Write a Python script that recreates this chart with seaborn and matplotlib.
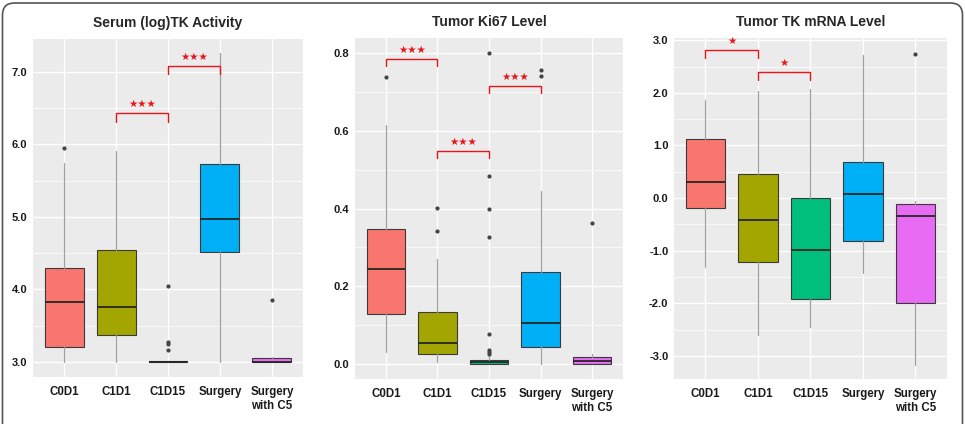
import numpy as np
import matplotlib
matplotlib.use("Agg")
import matplotlib.pyplot as plt
import matplotlib.ticker as mticker
from matplotlib.patches import FancyBboxPatch
import seaborn as sns

# -----------------------------------------------------------------------------
# Data (box statistics)
# -----------------------------------------------------------------------------

groups = ["C0D1", "C1D1", "C1D15", "Surgery", "Surgery\nwith C5"]

# Serum (log)TK Activity
tk_lo = [3.0, 3.0, 3.0, 3.0, 3.0]
tk_q1 = [3.21, 3.37, 3.0, 4.51, 3.0]
tk_med = [3.83, 3.75, 3.0, 4.97, 3.0]
tk_q3 = [4.29, 4.55, 3.01, 5.73, 3.05]
tk_hi = [5.74, 5.91, 3.01, 7.26, 3.07]
tk_fliers = [[5.95], [], [4.05, 3.28, 3.24, 3.16], [], [3.86]]
tk_brackets = [(2, 3, 6.43, 6.31, "★★★"), (3, 4, 7.08, 6.97, "★★★")]

# Tumor Ki67 Level
ki_lo = [0.030, 0.005, 0.0, 0.0, 0.0]
ki_q1 = [0.129, 0.025, 0.0, 0.044, 0.0]
ki_med = [0.244, 0.055, 0.005, 0.106, 0.009]
ki_q3 = [0.348, 0.135, 0.010, 0.236, 0.018]
ki_hi = [0.615, 0.27, 0.02, 0.446, 0.027]
ki_fliers = [[0.738], [0.401, 0.343], [0.80, 0.484, 0.399, 0.328, 0.076, 0.036, 0.030, 0.026],
             [0.757, 0.741], [0.364]]
ki_brackets = [(1, 2, 0.786, 0.767, "★★★"), (2, 3, 0.549, 0.530, "★★★"),
               (3, 4, 0.716, 0.697, "★★★")]

# Tumor TK mRNA Level
mr_lo = [-1.31, -2.61, -2.45, -1.42, -3.17]
mr_q1 = [-0.196, -1.21, -1.91, -0.82, -1.99]
mr_med = [0.31, -0.42, -0.99, 0.07, -0.35]
mr_q3 = [1.12, 0.46, 0.0, 0.68, -0.11]
mr_hi = [1.86, 2.03, 2.08, 2.71, -0.06]
mr_fliers = [[], [], [], [], [2.74]]
mr_brackets = [(1, 2, 2.81, 2.66, "★"), (2, 3, 2.40, 2.24, "★")]

# -----------------------------------------------------------------------------
# Plotting attributes
# -----------------------------------------------------------------------------

sns.set_theme(style="darkgrid", rc={"axes.facecolor": "#EBEBEB",
                                     "grid.color": "white"})
plt.rcParams["font.family"] = ["Liberation Sans", "DejaVu Sans"]
palette = sns.color_palette(["#F8766D", "#A3A500", "#00BF7D", "#00B0F6", "#E76BF3"])

fig = plt.figure(figsize=(9.65, 4.24), dpi=100)

panels = [
    ("Serum (log)TK Activity", tk_lo, tk_q1, tk_med, tk_q3, tk_hi, tk_fliers, tk_brackets,
     [0.0342, 0.1108, 0.2798, 0.797], (2.79, 7.455), [3, 4, 5, 6, 7]),
    ("Tumor Ki67 Level", ki_lo, ki_q1, ki_med, ki_q3, ki_hi, ki_fliers, ki_brackets,
     [0.3679, 0.1061, 0.2777, 0.804], (-0.0386, 0.839), [0.0, 0.2, 0.4, 0.6, 0.8]),
    ("Tumor TK mRNA Level", mr_lo, mr_q1, mr_med, mr_q3, mr_hi, mr_fliers, mr_brackets,
     [0.6984, 0.1061, 0.2829, 0.804], (-3.44, 3.04), [-3, -2, -1, 0, 1, 2, 3]),
]

for title, lo, q1, med, q3, hi, fliers, brackets, rect, ylim, yticks in panels:
    ax = fig.add_axes(rect)
    stats = []
    for i in range(len(groups)):
        stats.append({"whislo": lo[i], "q1": q1[i], "med": med[i], "q3": q3[i],
                      "whishi": hi[i], "fliers": fliers[i], "label": groups[i]})
    parts = ax.bxp(stats, positions=range(1, 6), widths=0.75, patch_artist=True,
                   showcaps=False, zorder=3,
                   boxprops=dict(edgecolor="#3a3a3a", linewidth=0.8),
                   medianprops=dict(color="#262626", linewidth=1.3),
                   whiskerprops=dict(color="#a0a0a0", linewidth=0.9),
                   flierprops=dict(marker="o", markersize=2.0, markerfacecolor="#444444",
                                   markeredgecolor="#444444"))
    for box, col in zip(parts["boxes"], palette):
        box.set_facecolor(col)

    # significance brackets
    for x1, x2, ytop, yleg, label in brackets:
        ax.plot([x1, x1, x2, x2], [yleg, ytop, ytop, yleg], color="#E8141A", lw=1.0, zorder=4)
        ax.text((x1 + x2) / 2, ytop + (ylim[1] - ylim[0]) * 0.012, label, color="#E8141A",
                ha="center", va="bottom", fontsize=7.5, family="DejaVu Sans", zorder=4)

    ax.set_xlim(0.4, 5.6)
    ax.set_ylim(*ylim)
    ax.set_yticks(yticks)
    ax.yaxis.set_major_formatter(mticker.FormatStrFormatter("%.1f"))
    ax.yaxis.set_minor_locator(mticker.AutoMinorLocator(2))
    ax.grid(which="major", color="white", lw=1.0)
    ax.grid(which="minor", axis="y", color="white", lw=0.5)
    ax.set_xticks(range(1, 6))
    ax.set_xticklabels(groups, fontweight="bold", fontsize=8.3, color="#1a1a1a")
    for lab in ax.get_yticklabels():
        lab.set_fontweight("bold")
        lab.set_fontsize(8)
        lab.set_color("#1a1a1a")
    ax.tick_params(which="major", length=2.5, width=0.6, color="#555555", pad=1.5)
    ax.tick_params(which="minor", length=0)
    ax.tick_params(axis="x", pad=4)
    for s in ax.spines.values():
        s.set_visible(False)
    ax.set_title(title, fontweight="bold", fontsize=10, pad=9)

# outer rounded frame
frame = FancyBboxPatch((0.025, -1.0), 9.6, 5.21, boxstyle="round,pad=0,rounding_size=0.12",
                       transform=fig.dpi_scale_trans, facecolor="none",
                       edgecolor="#555555", lw=1.2, zorder=0)
fig.patches.append(frame)

plt.savefig("out.png", dpi=100)
